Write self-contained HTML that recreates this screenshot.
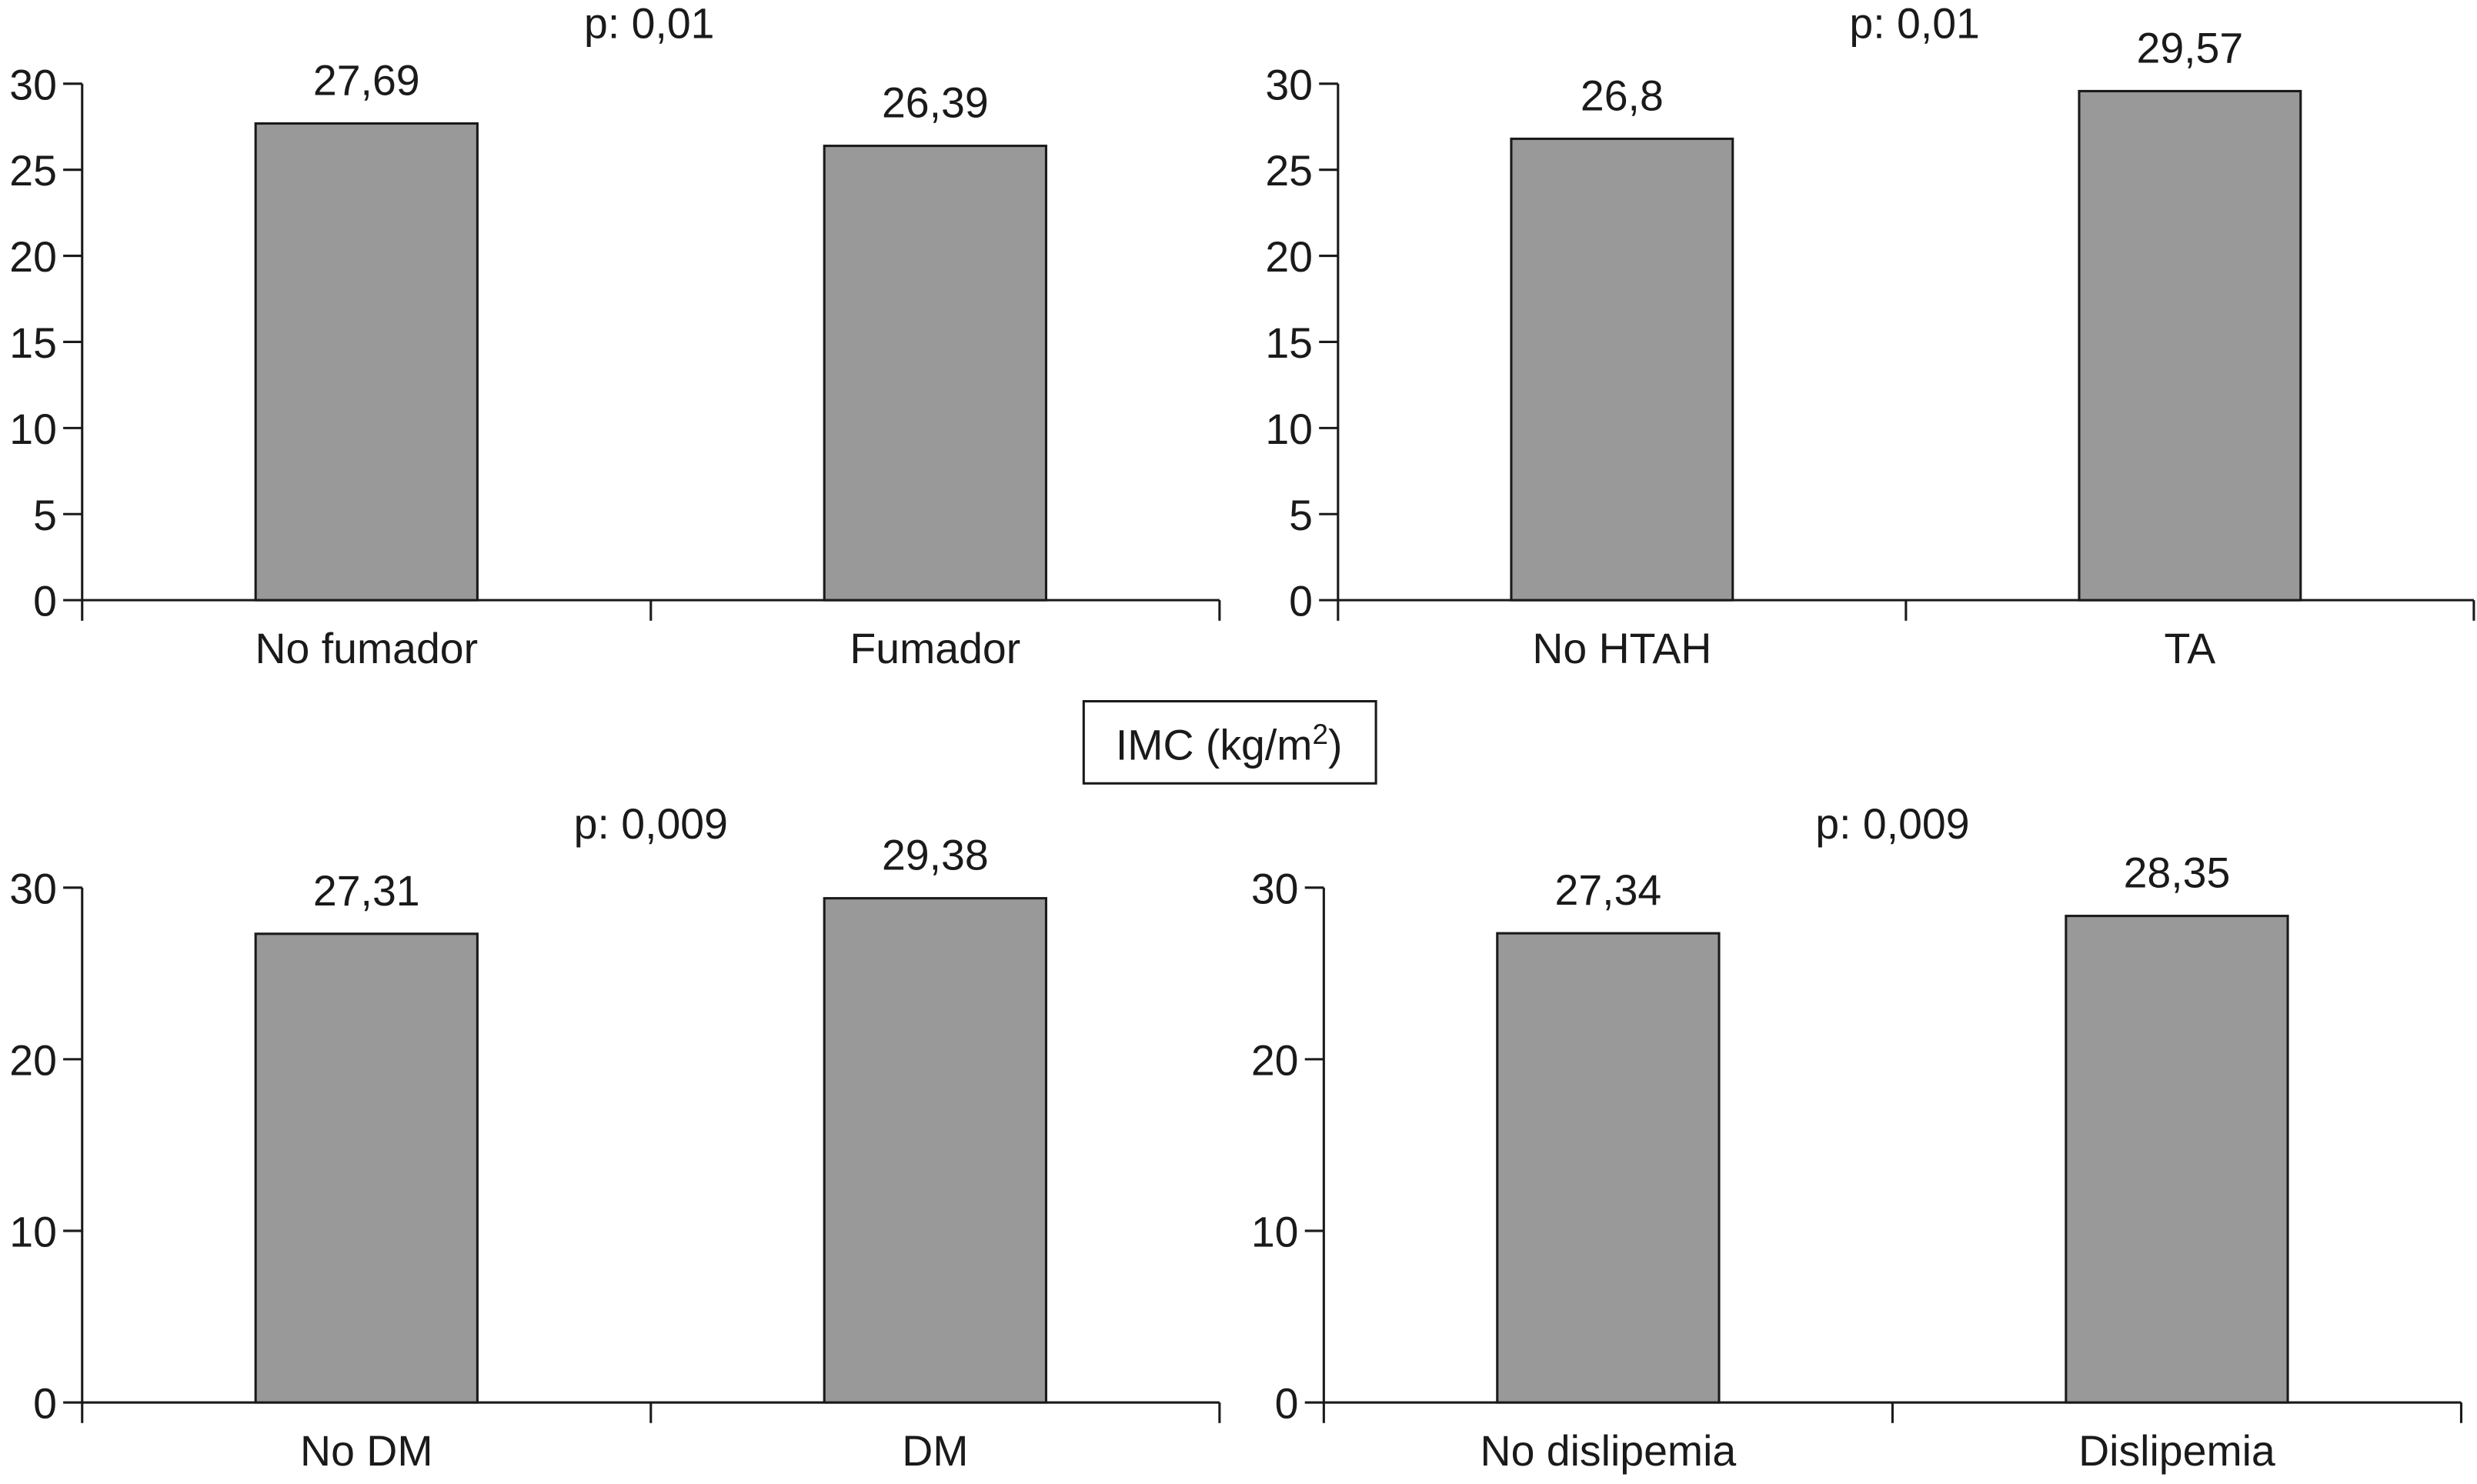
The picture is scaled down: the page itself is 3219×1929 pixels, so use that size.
<!DOCTYPE html>
<html><head><meta charset="utf-8"><style>
html,body{margin:0;padding:0;background:#fff;}
svg{display:block;}
text{font-family:"Liberation Sans",Arial,sans-serif;fill:#1a1a1a;}
</style></head><body>
<svg id="chart" width="3219" height="1929" viewBox="0 0 1568 939.6" preserveAspectRatio="none" xmlns="http://www.w3.org/2000/svg">
<g>
<rect x="686" y="444" width="185" height="52" fill="#fff" stroke="#1a1a1a" stroke-width="1.5"/>
<text x="778" y="481" font-size="27" text-anchor="middle">IMC (kg/m<tspan font-size="18" dy="-10">2</tspan><tspan dy="10">)</tspan></text>
</g>
</svg>
<script>
const catsA = ["No fumador","Fumador"];
const valsA = [27.69,26.39];
const catsB = ["No HTAH","TA"];
const valsB = [26.8,29.57];
const catsC = ["No DM","DM"];
const valsC = [27.31,29.38];
const catsD = ["No dislipemia","Dislipemia"];
const valsD = [27.34,28.35];
const ticksTop = [0,5,10,15,20,25,30];
const ticksBottom = [0,10,20,30];
const pLabels = ["p: 0,01","p: 0,01","p: 0,009","p: 0,009"];

const NS="http://www.w3.org/2000/svg";
const svg=document.getElementById('chart');
function mk(tag,attrs,parent){const e=document.createElementNS(NS,tag);for(const k in attrs)e.setAttribute(k,attrs[k]);parent.appendChild(e);return e;}

const panels=[
 {cats:catsA,vals:valsA,ticks:ticksTop,x0:52,x1:772,y0:380,yTop:53,p:pLabels[0],px:411,py:24,name:'smoking'},
 {cats:catsB,vals:valsB,ticks:ticksTop,x0:847,x1:1566,y0:380,yTop:53,p:pLabels[1],px:1212,py:24,name:'hypertension'},
 {cats:catsC,vals:valsC,ticks:ticksBottom,x0:52,x1:772,y0:888,yTop:562,p:pLabels[2],px:412,py:531,name:'diabetes'},
 {cats:catsD,vals:valsD,ticks:ticksBottom,x0:838,x1:1558,y0:888,yTop:562,p:pLabels[3],px:1198,py:531,name:'dyslipidemia'}
];
panels.forEach(P=>{
 const g=mk('g',{},svg);
 
 
 const maxV=30;
 const yS=v=>P.y0-(v/maxV)*(P.y0-P.yTop);
 const bw=(P.x1-P.x0)/P.cats.length;
 const xC=i=>P.x0+bw*(i+0.5);
 const ya=mk('line',{x1:P.x0,y1:P.yTop,x2:P.x0,y2:P.y0+13,stroke:'#1a1a1a','stroke-width':1.5},g);
 
 
 P.ticks.forEach(t=>{
  const y=yS(t);
  mk('line',{x1:P.x0-12,y1:y,x2:P.x0,y2:y,stroke:'#1a1a1a','stroke-width':1.5},g);
  const tl=mk('text',{x:P.x0-16,y:y+10,'font-size':27,'text-anchor':'end'},g);
  tl.textContent=t;
  
  
 });
 const xa=mk('line',{x1:P.x0,y1:P.y0,x2:P.x1,y2:P.y0,stroke:'#1a1a1a','stroke-width':1.5},g);
 
 
 for(let i=1;i<=P.cats.length;i++){
  const x=P.x0+bw*i;
  mk('line',{x1:x,y1:P.y0,x2:x,y2:P.y0+13,stroke:'#1a1a1a','stroke-width':1.5},g);
 }
 P.cats.forEach((c,i)=>{
  const w=bw*0.195*2;
  const top=yS(P.vals[i]);
  const r=mk('rect',{x:xC(i)-w/2,y:top,width:w,height:P.y0-top,fill:'#999999',stroke:'#1a1a1a','stroke-width':1.5},g);
  
  
  const vl=mk('text',{x:xC(i),y:top-18,'font-size':27,'text-anchor':'middle'},g);
  vl.textContent=String(P.vals[i]).replace('.',',');
  
  
  const cl=mk('text',{x:xC(i),y:P.y0+40,'font-size':27,'text-anchor':'middle'},g);
  cl.textContent=c;
  
  
 });
 const pl=mk('text',{x:P.px,y:P.py,'font-size':27,'text-anchor':'middle'},g);
 pl.textContent=P.p;
 
 
});
</script>
</body></html>
